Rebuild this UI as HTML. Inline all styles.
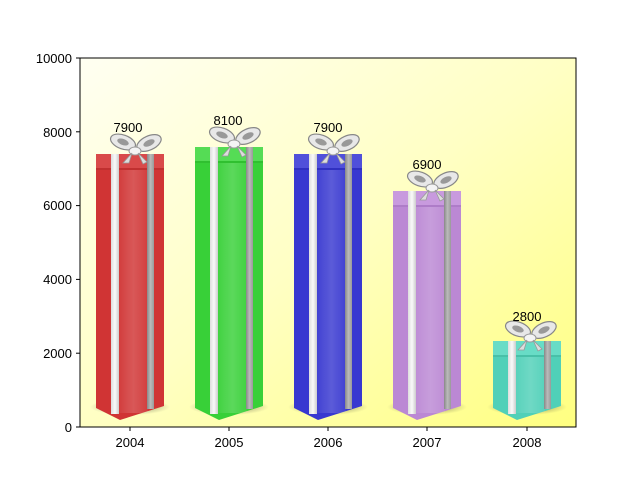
<!DOCTYPE html>
<html><head><meta charset="utf-8"><style>
body{margin:0;background:#fff}
svg{display:block;font-family:"Liberation Sans","DejaVu Sans",sans-serif}
</style></head><body>
<svg width="640" height="480" viewBox="0 0 640 480" xmlns="http://www.w3.org/2000/svg">
<defs>
<linearGradient id="bg" x1="0" y1="0" x2="1" y2="1">
<stop offset="0" stop-color="#fffff2"/><stop offset="0.5" stop-color="#ffffc4"/><stop offset="1" stop-color="#ffff80"/>
</linearGradient>
<linearGradient id="hl" x1="0" y1="0" x2="1" y2="0">
<stop offset="0" stop-color="#fff" stop-opacity="0.05"/><stop offset="0.5" stop-color="#fff" stop-opacity="0.18"/><stop offset="1" stop-color="#fff" stop-opacity="0.05"/>
</linearGradient>
<linearGradient id="wr" x1="0" y1="0" x2="1" y2="0">
<stop offset="0" stop-color="#ddd"/><stop offset="0.5" stop-color="#fafafa"/><stop offset="1" stop-color="#ccc"/>
</linearGradient>
<linearGradient id="gr" x1="0" y1="0" x2="1" y2="0">
<stop offset="0" stop-color="#888"/><stop offset="0.5" stop-color="#bbb"/><stop offset="1" stop-color="#999"/>
</linearGradient>
<radialGradient id="sh"><stop offset="0" stop-color="#443" stop-opacity="0.7"/><stop offset="1" stop-color="#554" stop-opacity="0"/></radialGradient>
<g id="bow">
<ellipse cx="-12" cy="-9" rx="13" ry="7" fill="#e8e8e8" stroke="#888" stroke-width="1.2" transform="rotate(20 -12 -9)"/>
<ellipse cx="-12" cy="-9" rx="6" ry="3" fill="#999" transform="rotate(20 -12 -9)"/>
<ellipse cx="14" cy="-8" rx="13" ry="7" fill="#e8e8e8" stroke="#888" stroke-width="1.2" transform="rotate(-25 14 -8)"/>
<ellipse cx="14" cy="-8" rx="6" ry="3" fill="#999" transform="rotate(-25 14 -8)"/>
<ellipse cx="0" cy="0" rx="6" ry="4" fill="#f4f4f4" stroke="#999"/>
<path d="M-3 2 L-12 12 L-6 12 Z M3 2 L12 11 L8 13 Z" fill="#ddd" stroke="#999" stroke-width="0.8"/>
</g>
</defs>
<rect x="80" y="58" width="496" height="369" fill="url(#bg)"/>

<g transform="translate(130,0)">
<ellipse cx="0" cy="407" rx="40" ry="8" fill="url(#sh)"/>
<polygon points="-34,154 34,154 34,406 -10,420 -34,408" fill="#d03434"/>
<rect x="-11" y="168" width="29" height="245" fill="url(#hl)"/>
<rect x="-34" y="154" width="68" height="15" fill="#d94a4a"/>
<rect x="-34" y="168" width="68" height="2" fill="#c03030"/>
<rect x="-19" y="154" width="8" height="260" fill="url(#wr)"/>
<rect x="17" y="154" width="7" height="255" fill="url(#gr)"/>
<use href="#bow" x="5" y="151"/>
<text x="-2" y="132" font-size="13" text-anchor="middle">7900</text>
</g>
<g transform="translate(229,0)">
<ellipse cx="0" cy="407" rx="40" ry="8" fill="url(#sh)"/>
<polygon points="-34,147 34,147 34,406 -10,420 -34,408" fill="#38d038"/>
<rect x="-11" y="161" width="29" height="252" fill="url(#hl)"/>
<rect x="-34" y="147" width="68" height="15" fill="#55dc55"/>
<rect x="-34" y="161" width="68" height="2" fill="#30c030"/>
<rect x="-19" y="147" width="8" height="267" fill="url(#wr)"/>
<rect x="17" y="147" width="7" height="262" fill="url(#gr)"/>
<use href="#bow" x="5" y="144"/>
<text x="-1" y="125" font-size="13" text-anchor="middle">8100</text>
</g>
<g transform="translate(328,0)">
<ellipse cx="0" cy="407" rx="40" ry="8" fill="url(#sh)"/>
<polygon points="-34,154 34,154 34,406 -10,420 -34,408" fill="#3838d0"/>
<rect x="-11" y="168" width="29" height="245" fill="url(#hl)"/>
<rect x="-34" y="154" width="68" height="15" fill="#5050da"/>
<rect x="-34" y="168" width="68" height="2" fill="#3030c0"/>
<rect x="-19" y="154" width="8" height="260" fill="url(#wr)"/>
<rect x="17" y="154" width="7" height="255" fill="url(#gr)"/>
<use href="#bow" x="5" y="151"/>
<text x="0" y="132" font-size="13" text-anchor="middle">7900</text>
</g>
<g transform="translate(427,0)">
<ellipse cx="0" cy="407" rx="40" ry="8" fill="url(#sh)"/>
<polygon points="-34,191 34,191 34,406 -10,420 -34,408" fill="#bb88d4"/>
<rect x="-11" y="205" width="29" height="208" fill="url(#hl)"/>
<rect x="-34" y="191" width="68" height="15" fill="#c89ade"/>
<rect x="-34" y="205" width="68" height="2" fill="#ae7cc8"/>
<rect x="-19" y="191" width="8" height="223" fill="url(#wr)"/>
<rect x="17" y="191" width="7" height="218" fill="url(#gr)"/>
<use href="#bow" x="5" y="188"/>
<text x="0" y="169" font-size="13" text-anchor="middle">6900</text>
</g>
<g transform="translate(527,0)">
<ellipse cx="0" cy="407" rx="40" ry="8" fill="url(#sh)"/>
<polygon points="-34,341 34,341 34,406 -10,420 -34,408" fill="#50d0b8"/>
<rect x="-11" y="355" width="29" height="58" fill="url(#hl)"/>
<rect x="-34" y="341" width="68" height="15" fill="#68dcc6"/>
<rect x="-34" y="355" width="68" height="2" fill="#48c0a8"/>
<rect x="-19" y="341" width="8" height="73" fill="url(#wr)"/>
<rect x="17" y="341" width="7" height="68" fill="url(#gr)"/>
<use href="#bow" x="3" y="338"/>
<text x="0" y="321" font-size="13" text-anchor="middle">2800</text>
</g>

<rect x="80" y="58" width="496" height="369" fill="none" stroke="#000" stroke-width="1"/>
<g stroke="#000" stroke-width="1">
<line x1="76" y1="427" x2="80" y2="427"/><line x1="76" y1="353.2" x2="80" y2="353.2"/>
<line x1="76" y1="279.4" x2="80" y2="279.4"/><line x1="76" y1="205.6" x2="80" y2="205.6"/>
<line x1="76" y1="131.8" x2="80" y2="131.8"/><line x1="76" y1="58" x2="80" y2="58"/>
<line x1="130" y1="427" x2="130" y2="431"/><line x1="229" y1="427" x2="229" y2="431"/>
<line x1="328" y1="427" x2="328" y2="431"/><line x1="427" y1="427" x2="427" y2="431"/>
<line x1="527" y1="427" x2="527" y2="431"/>
</g>
<g font-size="13" text-anchor="end">
<text x="72" y="432">0</text><text x="72" y="358">2000</text><text x="72" y="284">4000</text>
<text x="72" y="210">6000</text><text x="72" y="137">8000</text><text x="72" y="63">10000</text>
</g>
<g font-size="13" text-anchor="middle">
<text x="130" y="447">2004</text><text x="229" y="447">2005</text><text x="328" y="447">2006</text>
<text x="427" y="447">2007</text><text x="527" y="447">2008</text>
</g>
</svg>
</body></html>
